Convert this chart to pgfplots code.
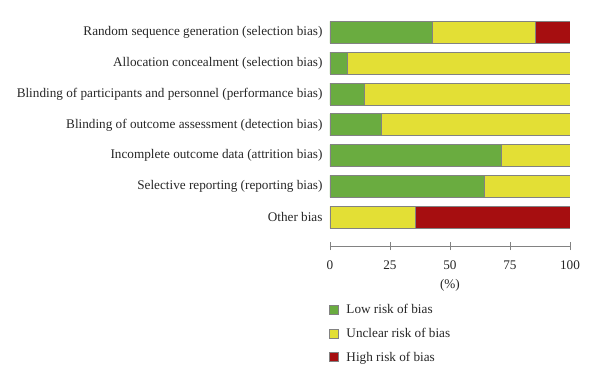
\documentclass[border=0pt]{standalone}
\usepackage{pgfplots}
\pgfplotsset{compat=1.18}
\usepackage{fontspec}
\setmainfont{Liberation Serif}
\definecolor{cgreen}{RGB}{106,172,64}
\definecolor{cyellow}{RGB}{227,223,53}
\definecolor{cred}{RGB}{166,14,16}
\definecolor{cgray}{RGB}{130,130,130}
\begin{document}
\begin{tikzpicture}
\useasboundingbox (-330pt,-140pt) rectangle (270pt,246pt);
\begin{axis}[
  at={(0pt,0pt)}, anchor=south west,
  scale only axis,
  width=240pt, height=226pt,
  xbar stacked,
  bar width=22pt,
  xmin=0, xmax=100,
  ymin=-0.4, ymax=6.93,
  y dir=reverse,
  axis x line*=bottom,
  axis y line*=left,
  y axis line style={draw=none},
  x axis line style={draw=cgray, line width=0.8pt, -},
  xtick={0,25,50,75,100},
  ytick={0,1,2,3,4,5,6},
  yticklabels={Random sequence generation (selection bias),Allocation concealment (selection bias),Blinding of participants and personnel (performance bias),Blinding of outcome assessment (detection bias),Incomplete outcome data (attrition bias),Selective reporting (reporting bias),Other bias},
  major y tick style={draw=none},
  major x tick style={draw=cgray, line width=0.8pt},
  tick align=center,
  major tick length=8pt,
  /pgf/number format/assume math mode=true,
  tick label style={font=\fontsize{13.2}{15}\selectfont, text=black!85},
  xticklabel style={yshift=-7pt},
  xlabel={(\%)},
  xlabel style={font=\fontsize{13.2}{15}\selectfont, text=black!85, yshift=-3pt},
  legend style={at={(0,0)}, anchor=north west, xshift=-4pt, yshift=-54pt, draw=none, fill=none,
    font=\fontsize{13.2}{15}\selectfont, text=black!85, row sep=9pt, nodes={inner sep=2pt}},
  legend cell align=left,
  legend image code/.code={\draw[#1, draw=cgray, line width=0.6pt] (0pt,-4.5pt) rectangle (9pt,4.5pt);
    \path[draw=none, fill=none] (9pt,0pt) -- (15pt,0pt);},
  every axis plot/.append style={draw=cgray, line width=0.8pt},
]
\addplot[fill=cgreen] coordinates {(42.857,0) (7.143,1) (14.286,2) (21.429,3) (71.429,4) (64.286,5) (0,6)};
\addplot[fill=cyellow] coordinates {(42.857,0) (92.857,1) (85.714,2) (78.571,3) (28.571,4) (35.714,5) (35.714,6)};
\addplot[fill=cred] coordinates {(14.286,0) (0,1) (0,2) (0,3) (0,4) (0,5) (64.286,6)};
\legend{Low risk of bias, Unclear risk of bias, High risk of bias}
\end{axis}
\end{tikzpicture}
\end{document}
